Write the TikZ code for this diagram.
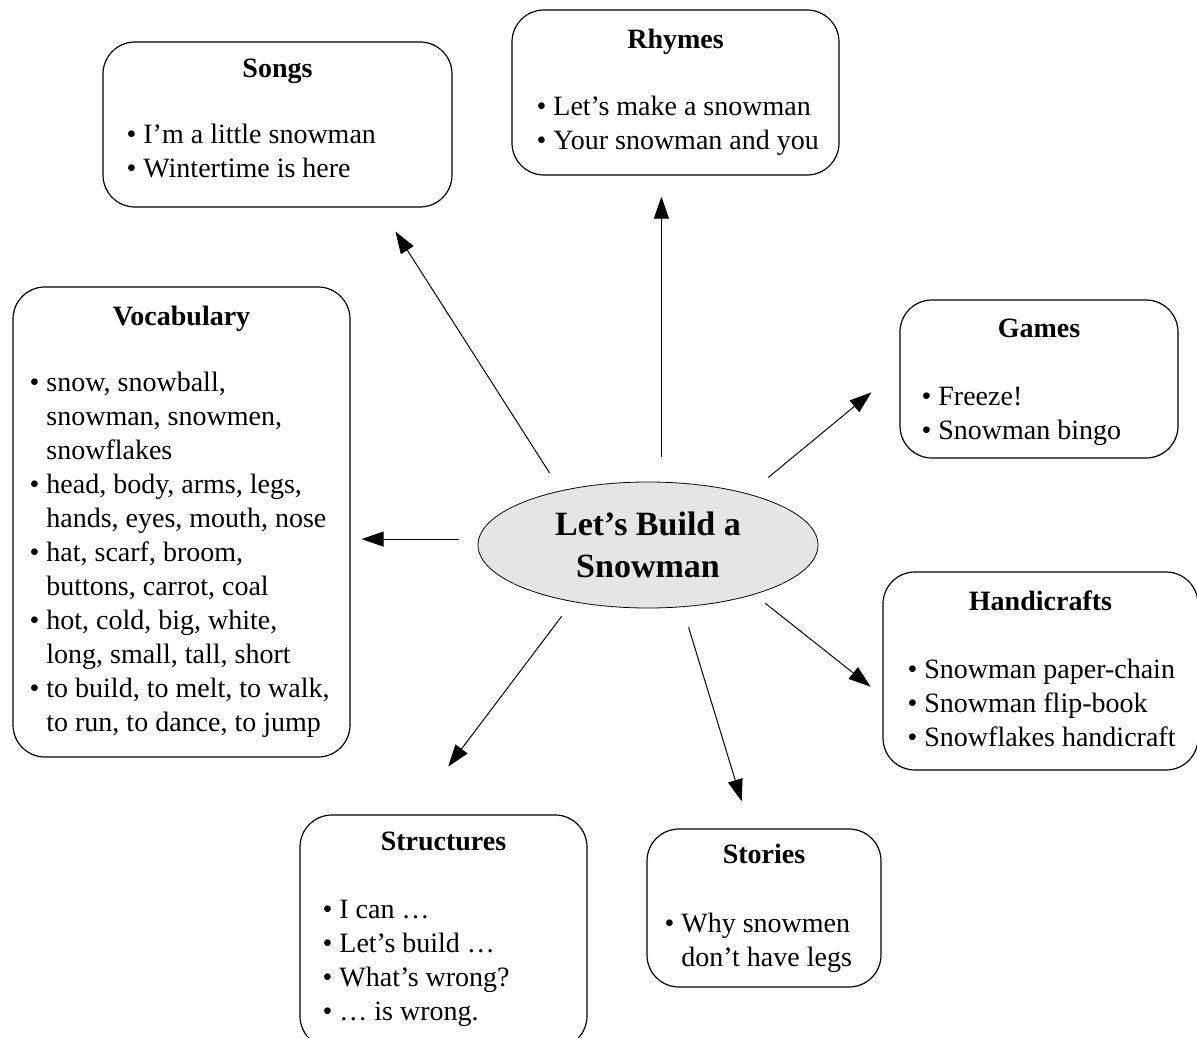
\documentclass[tikz,border=0pt]{standalone}
\usepackage{fontspec}
\setmainfont{Liberation Serif}
\usetikzlibrary{arrows.meta,positioning,shapes.geometric}
\tikzset{>={Triangle[length=22pt,width=15pt]}}
\newcommand{\topiclist}[1]{\begin{tabular}[t]{@{}l@{}}#1\end{tabular}}
\newcommand{\hang}{\phantom{\textbullet\ }}

\begin{document}
\begin{tikzpicture}[x=1pt, y=-1pt,
  topic/.style={draw, line width=1.2pt, rounded corners=32pt, inner sep=0pt},
  head/.style={font=\fontsize{28}{34}\selectfont\bfseries, anchor=base, inner sep=0pt},
  items/.style={font=\fontsize{28}{34}\selectfont, anchor=base west, inner sep=0pt},
  arr/.style={->, line width=1pt}]

  \useasboundingbox (0,0) rectangle (1197,1038);

  % Centre
  \node[ellipse, draw, line width=0.8pt, fill=black!10, minimum width=340pt,
        minimum height=126pt, inner sep=0pt, align=center,
        font=\fontsize{34}{42}\selectfont\bfseries] (snow) at (648,545) {Let's Build a\\Snowman};

  % Topics
  \node[topic, minimum width=349pt, minimum height=165pt] (songs) at (277.5,124.5) {};
  \node[head] (songs-h) at ([yshift=-36pt]songs.north) {Songs};
  \node[items] (songs-l) at ([xshift=24pt,yshift=-102pt]songs.north west)
    {\topiclist{\textbullet\ I'm a little snowman\\\textbullet\ Wintertime is here}};

  \node[topic, minimum width=327pt, minimum height=165pt] (rhymes) at (675.5,92.5) {};
  \node[head] (rhymes-h) at ([yshift=-39pt]rhymes.north) {Rhymes};
  \node[items] (rhymes-l) at ([xshift=25pt,yshift=-106pt]rhymes.north west)
    {\topiclist{\textbullet\ Let's make a snowman\\\textbullet\ Your snowman and you}};

  \node[topic, minimum width=337pt, minimum height=470pt] (vocab) at (181.5,522) {};
  \node[head] (vocab-h) at ([yshift=-39pt]vocab.north) {Vocabulary};
  \node[items] (vocab-l) at ([xshift=17pt,yshift=-105pt]vocab.north west)
    {\topiclist{\textbullet\ snow, snowball,\\
     \hang snowman, snowmen,\\
     \hang snowflakes\\
     \textbullet\ head, body, arms, legs,\\
     \hang hands, eyes, mouth, nose\\
     \textbullet\ hat, scarf, broom,\\
     \hang buttons, carrot, coal\\
     \textbullet\ hot, cold, big, white,\\
     \hang long, small, tall, short\\
     \textbullet\ to build, to melt, to walk,\\
     \hang to run, to dance, to jump}};

  \node[topic, minimum width=278pt, minimum height=158pt] (games) at (1039,379) {};
  \node[head] (games-h) at ([yshift=-38pt]games.north) {Games};
  \node[items] (games-l) at ([xshift=22pt,yshift=-106pt]games.north west)
    {\topiclist{\textbullet\ Freeze!\\\textbullet\ Snowman bingo}};

  \node[topic, minimum width=315pt, minimum height=198pt] (handi) at (1040.5,671) {};
  \node[head] (handi-h) at ([yshift=-39pt]handi.north) {Handicrafts};
  \node[items] (handi-l) at ([xshift=25pt,yshift=-107pt]handi.north west)
    {\topiclist{\textbullet\ Snowman paper-chain\\\textbullet\ Snowman flip-book\\\textbullet\ Snowflakes handicraft}};

  \node[topic, minimum width=287pt, minimum height=233pt] (struct) at (443.5,931.5) {};
  \node[head] (struct-h) at ([yshift=-36pt]struct.north) {Structures};
  \node[items] (struct-l) at ([xshift=23pt,yshift=-104pt]struct.north west)
    {\topiclist{\textbullet\ I can …\\\textbullet\ Let's build …\\\textbullet\ What's wrong?\\\textbullet\ … is wrong.}};

  \node[topic, minimum width=234pt, minimum height=158pt] (stories) at (764,908) {};
  \node[head] (stories-h) at ([yshift=-35pt]stories.north) {Stories};
  \node[items] (stories-l) at ([xshift=18pt,yshift=-104pt]stories.north west)
    {\topiclist{\textbullet\ Why snowmen\\\hang don't have legs}};

  % Arrows
  \draw[arr, shorten <=20.9pt, shorten >=28.5pt] (snow.148) -- (songs.321);
  \draw[arr, shorten <=25.2pt, shorten >=21pt] (snow.78) -- (snow.78 |- rhymes.south);
  \draw[arr, shorten <=25.7pt, shorten >=36.3pt] (snow.27) -- (games.176);
  \draw[arr, shorten <=19.5pt, shorten >=11pt] (snow.178) -- (snow.178 -| vocab.east);
  \draw[arr, shorten <=13.8pt, shorten >=15.2pt] (snow.335) -- (handi.189);
  \draw[arr, shorten <=21.2pt, shorten >=28.3pt] (snow.299) -- (stories.100);
  \draw[arr, shorten <=18.1pt, shorten >=60pt] (snow.217) -- (struct.105);
\end{tikzpicture}
\end{document}
